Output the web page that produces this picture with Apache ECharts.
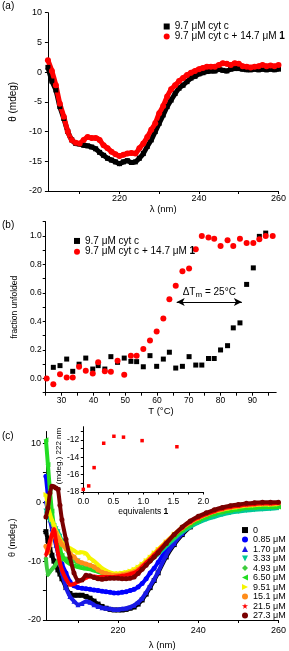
<!DOCTYPE html>
<html><head><meta charset="utf-8">
<script src="https://cdn.jsdelivr.net/npm/echarts@6/dist/echarts.min.js"></script>
<style>html,body{margin:0;padding:0;background:#fff}#c{width:289px;height:651px}</style>
</head><body><div id="c"></div>
<script>
// ---------- Panel (a) ----------
const wlA = [202,203,204,205,206,207,208,209,210,211,212,213,214,215,216,217,218,219,220,221,222,223,224,225,226,227,228,229,230,231,232,233,234,235,236,237,238,239,240,241,242,243,244,245,246,247,248,249,250,251,252,253,254,255,256,257,258,259,260];
const thetaA_cyt = [0.8,-1.5,-3.0,-5.8,-7.8,-10.0,-11.4,-12.0,-12.1,-12.3,-12.4,-12.6,-12.9,-13.5,-14.0,-14.5,-14.8,-15.1,-15.4,-15.1,-14.9,-15.2,-15.1,-14.5,-13.7,-12.5,-11.4,-10.0,-8.6,-7.2,-5.8,-4.7,-3.6,-2.7,-2.2,-1.6,-1.0,-0.7,-0.3,-0.1,0.1,0.2,0.2,0.5,0.3,0.2,0.5,0.6,0.6,0.5,0.4,0.4,0.5,0.4,0.5,0.4,0.5,0.4,0.5];
const thetaA_cyt1 = [2.0,0.2,-2.2,-5.3,-7.5,-10.0,-11.4,-11.9,-12.0,-11.4,-10.9,-11.1,-11.1,-11.4,-12.3,-12.8,-13.4,-13.8,-14.1,-13.9,-13.7,-13.6,-13.7,-12.8,-12.0,-10.9,-9.7,-8.6,-6.9,-5.7,-4.1,-2.9,-2.2,-1.5,-1.0,-0.5,-0.1,0.2,0.5,0.7,0.9,0.9,0.9,1.2,1.5,1.4,1.2,1.5,1.4,1.0,0.9,0.8,0.9,1.0,1.2,1.0,1.1,1.0,1.2];
const namesA = ['9.7 μM cyt c', '9.7 μM cyt c + 14.7 μM 1'];
const xTicksA = [210,220,230,240,250,260];
const xLabelsA = [220,240,260];

// ---------- Panel (b) ----------
const tB_cyt = [27.4,29.5,31.6,33.5,35.5,37.6,39.8,41.5,43.6,45.5,47.6,49.7,51.8,53.6,55.7,57.8,59.9,62.0,63.9,65.9,68.0,70.1,72.2,74.1,76.2,78.0,80.0,82.2,84.0,86.1,88.2,90.3,92.2,94.2];
const fB_cyt = [0.078,0.09,0.136,0.05,0.1,0.143,0.066,0.09,0.066,0.153,0.113,0.143,0.12,0.118,0.082,0.16,0.085,0.136,0.184,0.073,0.085,0.153,0.094,0.094,0.14,0.14,0.2,0.23,0.355,0.39,0.66,0.776,0.997,1.02];
const tB_cyt1 = [25.3,27.4,29.5,31.6,33.5,35.5,37.6,39.8,41.5,43.6,45.5,47.6,49.7,51.8,53.6,55.7,57.8,59.9,62.0,63.9,65.9,68.0,70.1,72.2,74.1,76.2,78.0,80.0,82.2,84.0,86.1,88.2,90.3,92.2,94.2,96.4];
const fB_cyt1 = [0,-0.04,0.03,0.007,0.007,0.082,0.054,0.035,0.113,0.05,0.047,0.125,0.026,0.16,0.16,0.207,0.266,0.33,0.42,0.555,0.65,0.753,0.772,0.906,1.0,0.99,0.98,0.93,0.97,0.93,0.98,0.95,0.95,0.976,1.0,1.0];
const arrowT = [66.2, 86.7];
const arrowF = 0.536;
const xTicksB = [25,30,35,40,45,50,55,60,65,70,75,80,85,90,95];
const xLabelsB = [30,40,50,60,70,80,90];
const yTicksB = [-0.1,0,0.1,0.2,0.3,0.4,0.5,0.6,0.7,0.8,0.9,1.0,1.1];
const yLabelsB = [0,0.2,0.4,0.6,0.8,1.0];

// ---------- Panel (c) ----------
const wlC = [202,202.5,203,203.5,204,204.5,205,205.5,206,207,208,209,210,211,212,213,214,215,216,217,218,219,220,221,222,223,224,225,226,227,228,229,230,232,234,236,238,240,242,244,246,248,250,252,254,256,258,260];
const c_0    = [-5,-6.5,-8,-9,-10,-10.8,-11.5,-12.2,-13,-14.5,-15.5,-15.8,-15.8,-15.8,-16.0,-16.3,-16.8,-17.3,-17.7,-18.0,-18.2,-18.3,-18.3,-18.3,-18.2,-18.0,-17.8,-17.3,-16.6,-15.6,-14.5,-13.3,-12.0,-9.3,-7.2,-5.5,-4.2,-3.2,-2.5,-1.9,-1.5,-1.2,-0.9,-0.7,-0.6,-0.5,-0.4,-0.4];
const c_085  = [4.4,1.0,-2.0,-3.5,-5.0,-6.5,-8.0,-9.3,-10.5,-12.0,-13.5,-14.2,-14.5,-14.6,-14.7,-14.8,-14.9,-15.0,-15.1,-15.2,-15.3,-15.4,-15.4,-15.3,-15.2,-15.0,-14.8,-14.4,-13.8,-13.0,-12.0,-11.2,-10.2,-8.1,-6.2,-4.9,-3.9,-3.2,-2.6,-2.1,-1.6,-1.3,-1.0,-0.8,-0.7,-0.6,-0.5,-0.5];
const c_170  = [0.2,-1.5,-3.0,-4.5,-6.0,-7.3,-8.6,-10.3,-12.0,-14.5,-16.0,-16.8,-17.4,-17.2,-16.8,-17.0,-17.4,-17.7,-17.9,-18.0,-18.1,-18.2,-18.2,-18.1,-18.0,-17.8,-17.5,-17.0,-16.3,-15.3,-14.2,-13.1,-11.8,-9.0,-7.0,-5.3,-4.0,-3.1,-2.5,-1.9,-1.5,-1.2,-0.9,-0.7,-0.6,-0.5,-0.4,-0.4];
const c_333  = [-1.5,-2.5,-3.0,-3.5,-4.0,-4.5,-5.0,-5.8,-6.6,-7.8,-8.9,-9.5,-10.0,-10.4,-10.8,-11.1,-11.5,-11.8,-12.0,-12.2,-12.3,-12.3,-12.3,-12.3,-12.2,-12.1,-11.9,-11.6,-11.1,-10.6,-10.0,-9.4,-8.8,-7.5,-6.2,-5.1,-4.2,-3.5,-2.9,-2.5,-2.1,-1.8,-1.6,-1.4,-1.3,-1.2,-1.1,-1.0];
const c_493  = [-9.5,-12.3,-11.8,-11.4,-11.0,-10.5,-10.0,-9.7,-9.7,-9.6,-9.7,-10.0,-10.3,-10.5,-10.6,-10.7,-11.0,-11.4,-11.8,-12.0,-12.2,-12.3,-12.3,-12.2,-12.1,-12.0,-11.8,-11.5,-11.0,-10.4,-9.8,-9.2,-8.5,-7.2,-5.9,-4.8,-3.9,-3.1,-2.5,-2.0,-1.7,-1.4,-1.2,-1.0,-0.9,-0.8,-0.7,-0.7];
const c_650  = [10.6,6.4,2.0,-1.5,-4.0,-5.5,-7.0,-8.0,-9.0,-10.0,-10.5,-10.8,-11.0,-11.2,-11.3,-11.4,-11.6,-11.8,-12.0,-12.1,-12.2,-12.2,-12.2,-12.1,-12.0,-11.9,-11.7,-11.4,-10.9,-10.3,-9.7,-9.1,-8.4,-7.1,-5.8,-4.7,-3.8,-3.1,-2.5,-2.0,-1.6,-1.4,-1.2,-1.0,-0.9,-0.8,-0.8,-0.8];
const c_951  = [1.3,-0.5,-2.0,-3.0,-3.8,-4.8,-5.5,-6.2,-6.8,-7.5,-7.8,-8.2,-8.6,-8.5,-8.7,-9.5,-10.0,-10.6,-11.2,-11.6,-11.9,-12.1,-12.1,-12.0,-11.9,-11.7,-11.4,-11.0,-10.5,-9.9,-9.3,-8.6,-8.0,-6.7,-5.4,-4.3,-3.4,-2.7,-2.1,-1.6,-1.3,-1.0,-0.8,-0.6,-0.5,-0.4,-0.4,-0.3];
const c_151  = [-7.5,-8.5,-7.2,-5.8,-4.6,-5.2,-6.0,-6.6,-7.2,-7.9,-8.7,-9.3,-10.0,-10.3,-10.5,-10.7,-11.0,-11.5,-11.9,-12.1,-12.3,-12.4,-12.4,-12.3,-12.2,-12.0,-11.8,-11.4,-10.8,-10.2,-9.6,-8.9,-8.2,-6.8,-5.5,-4.4,-3.5,-2.7,-2.1,-1.6,-1.2,-0.9,-0.7,-0.5,-0.4,-0.3,-0.3,-0.2];
const c_215  = [-9.0,-8.0,-6.6,-5.5,-4.6,-6.5,-8.6,-10.3,-11.5,-13.0,-14.0,-13.9,-13.5,-13.2,-12.8,-12.6,-12.6,-12.7,-12.7,-12.7,-12.7,-12.7,-12.6,-12.5,-12.4,-12.2,-12.0,-11.6,-11.0,-10.3,-9.7,-9.0,-8.3,-6.9,-5.5,-4.3,-3.3,-2.6,-2.0,-1.5,-1.1,-0.8,-0.6,-0.4,-0.3,-0.2,-0.2,-0.1];
const c_273  = [-2.5,-1.0,1.5,2.7,2.6,2.4,2.2,-0.5,-3.0,-6.3,-9.4,-12.0,-13.3,-13.2,-12.4,-12.5,-12.8,-13.0,-13.1,-13.0,-12.9,-12.9,-12.9,-13.0,-13.0,-12.9,-12.7,-12.1,-11.4,-10.7,-10.0,-9.3,-8.6,-7.0,-5.5,-4.2,-3.2,-2.4,-1.8,-1.3,-0.9,-0.6,-0.4,-0.2,-0.1,0.0,0.0,0.0];
const namesC = ['0','0.85 μM','1.70 μM','3.33 μM','4.93 μM','6.50 μM','9.51 μM','15.1 μM','21.5 μM','27.3 μM'];
const yTicksC = [-20,-15,-10,-5,0,5,10];
const yLabelsC = [-20,-10,0,10];

// inset
const eqInset = [0, 0.09, 0.18, 0.34, 0.51, 0.67, 0.98, 1.56];
const th222Inset = [-17.7, -17.3, -15.2, -12.4, -11.6, -11.7, -12.1, -12.8];
const xTicksIn = [0,0.25,0.5,0.75,1.0,1.25,1.5,1.75,2.0];
const xLabelsIn = [0,0.5,1.0,1.5,2.0];
const yTicksIn = [-18,-17,-16,-15,-14,-13,-12,-11];
const yLabelsIn = [-18,-16,-14,-12];

// ---------- styles ----------
const FF = 'Liberation Sans, Arial, sans-serif';
const colorsC = ['#000000','#0000ff','#1a1ae6','#00c896','#3dcc3d','#22dd22','#f5f500','#ff8c1a','#ff0000','#7a0000'];
const symC = ['rect','circle','triangle','path://M0,0 L10,0 L5,10 Z','diamond','path://M10,0 L10,10 L0,5 Z','path://M0,0 L10,5 L0,10 Z','circle','path://M5,0 L6.2,3.6 L10,3.6 L6.9,5.8 L8.1,9.5 L5,7.2 L1.9,9.5 L3.1,5.8 L0,3.6 L3.8,3.6 Z','circle'];

function zip(xs, ys){ return xs.map((x,i)=>[x, ys[i]]); }
function axisBase(extra){
  return Object.assign({
    type:'value',
    splitLine:{show:false},
    axisLine:{show:true, onZero:false, lineStyle:{color:'#000', width:1}},
    nameTextStyle:{color:'#000', fontFamily:FF}
  }, extra);
}
function ticks(vals, len){ return {show:true, customValues: vals, length: len||3, lineStyle:{color:'#000'}}; }
function labels(vals, size, margin, fmt){
  const o = {show:true, customValues: vals, fontSize:size, margin:margin, color:'#000', fontFamily:FF};
  if (fmt) o.formatter = fmt;
  return o;
}
const f1 = v => Number(v).toFixed(1);

const chart = echarts.init(document.getElementById('c'), null, {renderer:'canvas'});
const cSeries = [c_0,c_085,c_170,c_333,c_493,c_650,c_951,c_151,c_215,c_273];

const option = {
  animation:false,
  backgroundColor:'#fff',
  grid:[
    {left:42, right:7.3, top:12.7, bottom:460},
    {left:45.7, right:12.8, top:221.7, bottom:258.3},
    {left:41.7, right:7.3, top:431.5, bottom:31},
    {left:83.3, right:85.7, top:426.7, bottom:159}
  ],
  xAxis:[
    axisBase({gridIndex:0, min:202, max:260, axisTick:ticks(xTicksA), axisLabel:labels(xLabelsA,9,3),
      name:'λ (nm)', nameLocation:'middle', nameGap:12.5, nameTextStyle:{color:'#000',fontFamily:FF,fontSize:9.5}}),
    axisBase({gridIndex:1, min:25, max:97.5, axisTick:ticks(xTicksB), axisLabel:labels(xLabelsB,8.5,3.5),
      name:'T (°C)', nameLocation:'middle', nameGap:13, nameTextStyle:{color:'#000',fontFamily:FF,fontSize:9.5}}),
    axisBase({gridIndex:2, min:202, max:260, axisTick:ticks(xTicksA), axisLabel:labels(xLabelsA,9,6.5),
      name:'λ (nm)', nameLocation:'middle', nameGap:20, nameTextStyle:{color:'#000',fontFamily:FF,fontSize:9.5}}),
    axisBase({gridIndex:3, min:0, max:2, axisTick:ticks(xTicksIn,2.5), axisLabel:labels(xLabelsIn,8.5,5,f1),
      name:'equivalents {b|1}', nameLocation:'middle', nameGap:13,
      nameTextStyle:{color:'#000',fontFamily:FF,fontSize:8.5, rich:{b:{fontWeight:'bold',fontSize:8.5,fontFamily:FF,color:'#000'}}}})
  ],
  yAxis:[
    axisBase({gridIndex:0, min:-20, max:10, interval:5, axisTick:{show:true,length:3,lineStyle:{color:'#000'}},
      axisLabel:{fontSize:9, margin:6, color:'#000', fontFamily:FF},
      name:'θ (mdeg)', nameLocation:'middle', nameGap:25, nameTextStyle:{color:'#000',fontFamily:FF,fontSize:10}}),
    axisBase({gridIndex:1, min:-0.1, max:1.1, axisTick:ticks(yTicksB), axisLabel:labels(yLabelsB,8.5,4,f1),
      name:'fraction unfolded', nameLocation:'middle', nameGap:22, nameTextStyle:{color:'#000',fontFamily:FF,fontSize:8.5}}),
    axisBase({gridIndex:2, min:-20, max:12, axisTick:ticks(yTicksC), axisLabel:labels(yLabelsC,9,5),
      name:'θ (mdeg.)', nameLocation:'middle', nameGap:25, nameTextStyle:{color:'#000',fontFamily:FF,fontSize:9,padding:[0,24,0,0]}}),
    axisBase({gridIndex:3, min:-18, max:-10.5, axisTick:ticks(yTicksIn,2.5), axisLabel:labels(yLabelsIn,8.5,4),
      name:'θ (mdeg.) 222 nm', nameLocation:'middle', nameGap:12, nameTextStyle:{color:'#000',fontFamily:FF,fontSize:8}})
  ],
  legend:[
    {orient:'vertical', left:158.7, top:16.5, itemWidth:6, itemHeight:6, itemGap:0, selectedMode:false,
      textStyle:{fontSize:10, lineHeight:9, color:'#000', fontFamily:FF, rich:{b:{fontWeight:'bold',fontSize:10,fontFamily:FF,color:'#000'}}},
      formatter: n => n.replace(/ 1$/, ' {b|1}'),
      data:[{name:namesA[0], icon:'rect'},{name:namesA[1], icon:'circle'}]},
    {orient:'vertical', left:69, top:230.6, itemWidth:6, itemHeight:6, itemGap:0, selectedMode:false,
      textStyle:{fontSize:10, lineHeight:10.7, color:'#000', fontFamily:FF, rich:{b:{fontWeight:'bold',fontSize:10,fontFamily:FF,color:'#000'}}},
      formatter: n => n.replace(/^b:/,'').replace(/ 1$/, ' {b|1}'),
      data:[{name:'b:'+namesA[0], icon:'rect'},{name:'b:'+namesA[1], icon:'circle'}]},
    {orient:'vertical', left:237, top:520.3, itemWidth:6, itemHeight:6, itemGap:0, selectedMode:false,
      textStyle:{fontSize:9, lineHeight:9.5, color:'#000', fontFamily:FF},
      data: namesC.map((n,i)=>({name:n, icon:symC[i]}))}
  ],
  graphic:[
    {type:'text', left:2, top:1, style:{text:'(a)', font:'10px '+FF, fill:'#000'}},
    {type:'text', left:2, top:220, style:{text:'(b)', font:'10px '+FF, fill:'#000'}},
    {type:'text', left:2, top:431, style:{text:'(c)', font:'10px '+FF, fill:'#000'}}
  ],
  series:[]
};

// (a)
option.series.push({type:'line', name:namesA[0], xAxisIndex:0, yAxisIndex:0, data:zip(wlA,thetaA_cyt),
  color:'#000', lineStyle:{width:5}, symbol:'rect', symbolSize:5, showSymbol:true, smooth:0.2});
option.series.push({type:'line', name:namesA[1], xAxisIndex:0, yAxisIndex:0, data:zip(wlA,thetaA_cyt1),
  color:'#ff0000', lineStyle:{width:5}, symbol:'circle', symbolSize:6, showSymbol:true, smooth:0.2});
// (b)
option.series.push({type:'scatter', name:'b:'+namesA[0], xAxisIndex:1, yAxisIndex:1, data:zip(tB_cyt,fB_cyt),
  color:'#000', itemStyle:{opacity:1}, symbol:'rect', symbolSize:5});
option.series.push({type:'scatter', name:'b:'+namesA[1], xAxisIndex:1, yAxisIndex:1, data:zip(tB_cyt1,fB_cyt1),
  color:'#ff0000', itemStyle:{opacity:1}, symbol:'circle', symbolSize:6,
  markLine:{silent:true, symbol:['arrow','arrow'], symbolSize:[6,8], animation:false,
    lineStyle:{color:'#000', width:1, type:'solid'},
    label:{show:true, position:'middle', distance:3, color:'#000', fontFamily:FF, fontSize:10,
      formatter:'ΔT{s|m} = 25°C', rich:{s:{fontSize:8, fontFamily:FF, color:'#000', verticalAlign:'bottom', padding:[5,0,0,0]}}},
    data:[[{coord:[arrowT[0],arrowF]},{coord:[arrowT[1],arrowF]}]]}});
// (c)
cSeries.forEach((arr,i)=>{
  option.series.push({type:'line', name:namesC[i], xAxisIndex:2, yAxisIndex:2, data:zip(wlC,arr),
    color:colorsC[i], lineStyle:{width:4}, symbol:symC[i], symbolSize:5, showSymbol:true, smooth:0.2, z:2+i});
});
// inset
option.series.push({type:'scatter', name:'inset', xAxisIndex:3, yAxisIndex:3, data:zip(eqInset,th222Inset),
  color:'#ff0000', itemStyle:{opacity:1}, symbol:'rect', symbolSize:3.5});

chart.setOption(option);
</script>
</body></html>
